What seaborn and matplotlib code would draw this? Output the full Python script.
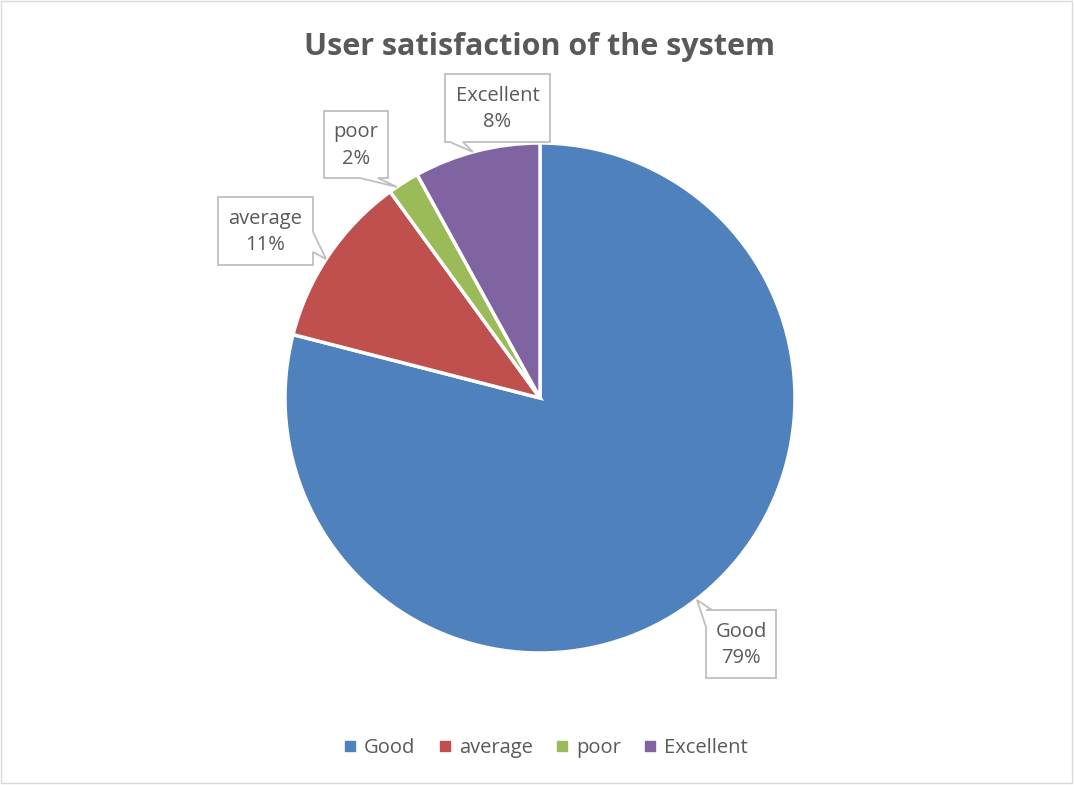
import matplotlib
matplotlib.use("Agg")
import matplotlib.pyplot as plt
from matplotlib.patches import Polygon, Rectangle
from matplotlib.lines import Line2D
import seaborn as sns

categories = ["Good", "average", "poor", "Excellent"]
values = [79, 11, 2, 8]
colors = ["#4F81BD", "#C0504D", "#9BBB59", "#8064A2"]
title = "User satisfaction of the system"

sns.set_theme(style="white")
plt.rcParams['font.family'] = ['Open Sans', 'DejaVu Sans']

W, H = 1074, 785
fig = plt.figure(figsize=(W / 100, H / 100), dpi=100)
fig.patch.set_facecolor("white")

def fx(x):
    return x / W

def fy(y):
    return 1 - y / H

cx, cy, r = 540, 398, 255
ax = fig.add_axes([fx(cx - r), fy(cy + r), 2 * r / W, 2 * r / H])
ax.pie(values, colors=colors, startangle=90, counterclock=False, radius=1,
       wedgeprops=dict(edgecolor="white", linewidth=2.5))
ax.set_xlim(-1, 1)
ax.set_ylim(-1, 1)
ax.set_aspect("auto")
ax.axis("off")

# chart border
fig.patches.append(Rectangle((fx(1), fy(783)), fx(1071), 782 / H, transform=fig.transFigure,
                             fill=False, edgecolor="#D9D9D9", linewidth=1.0))

fig.text(fx(540), fy(47), title, ha="center", va="center", fontsize=22,
         fontweight="bold", color="#595959")

# callout boxes: (left, top, right, bottom) and polygon tail points (pixel coords)
callouts = {
    "Excellent": dict(box=(445, 74, 550, 142),
                      poly=[(445, 74), (550, 74), (550, 142), (463, 142), (473, 152), (450, 142), (445, 142)]),
    "poor": dict(box=(324, 111, 388, 178),
                 poly=[(324, 111), (388, 111), (388, 178), (378, 178), (397, 187), (360, 178), (324, 178)]),
    "average": dict(box=(218, 197, 313, 265),
                    poly=[(218, 197), (313, 197), (313, 232), (326, 259), (313, 252), (313, 265), (218, 265)]),
    "Good": dict(box=(706, 610, 776, 678),
                 poly=[(706, 610), (776, 610), (776, 678), (706, 678), (706, 627), (697, 600), (712, 610)]),
}

for cat, val in zip(categories, values):
    c = callouts[cat]
    pts = [(fx(x), fy(y)) for x, y in c["poly"]]
    fig.patches.append(Polygon(pts, closed=True, transform=fig.transFigure,
                               facecolor="white", edgecolor="#BFBFBF", linewidth=1.3))
    l, t, rr, b = c["box"]
    fig.text(fx((l + rr) / 2), fy((t + b) / 2 + 1), f"{cat}\n{val}%", ha="center", va="center",
             fontsize=14.5, color="#595959", linespacing=1.45)

handles = [Line2D([0], [0], marker="s", linestyle="none", markersize=6.5,
                  markerfacecolor=c, markeredgecolor=c) for c in colors]
fig.legend(handles, categories, loc="center", bbox_to_anchor=(fx(546), fy(748)), ncol=4,
           frameon=False, fontsize=14.5, labelcolor="#595959", handlelength=0.6,
           handletextpad=0.4, columnspacing=1.15)

fig.savefig("out.png", dpi=100, facecolor="white")
